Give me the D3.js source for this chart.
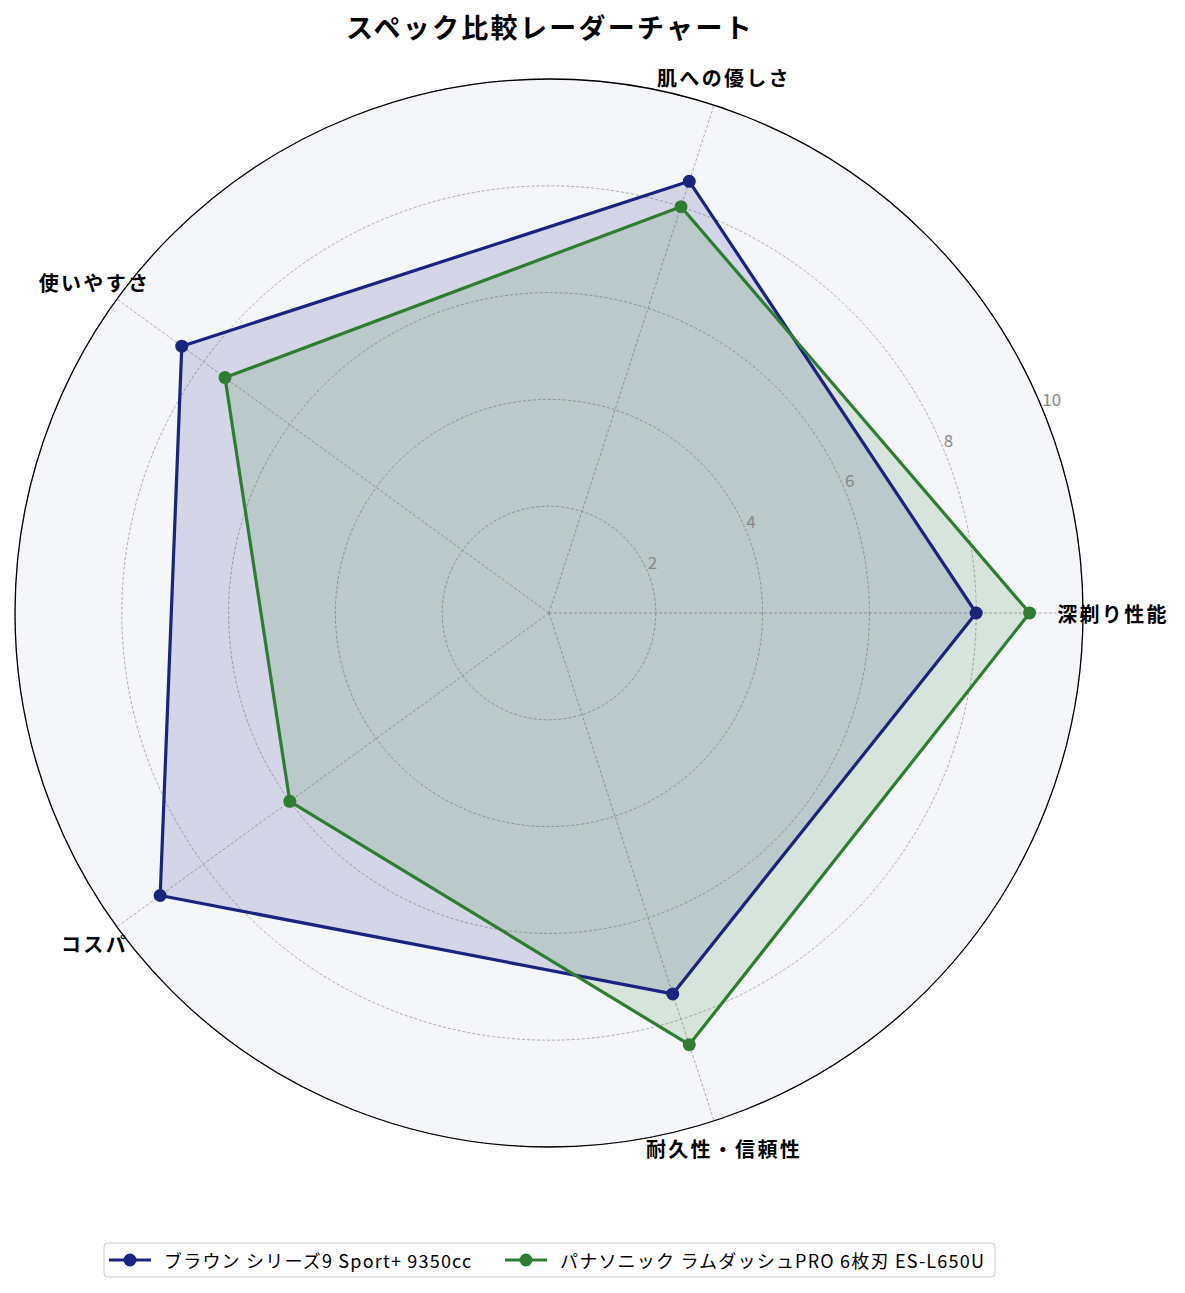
<!DOCTYPE html>
<html>
<head>
<meta charset="utf-8">
<script src="https://cdn.jsdelivr.net/npm/d3@7"></script>
<style>
  body { margin: 0; background: #fff; }
  text { font-family: "Noto Sans CJK JP", "Noto Sans", sans-serif; }
</style>
</head>
<body>
<svg id="chart"></svg>
<script>
// --- Data ---
const categories = ["深剃り性能", "肌への優しさ", "使いやすさ", "コスパ", "耐久性・信頼性"];
const seriesNames = ["ブラウン シリーズ9 Sport+ 9350cc", "パナソニック ラムダッシュPRO 6枚刃 ES-L650U"];
const braunValues = [8, 8.5, 8.5, 9, 7.5];
const panaValues = [9, 8, 7.5, 6, 8.5];
const radialTicks = [2, 4, 6, 8, 10];
const seriesColors = ["#1a237e", "#2e7d32"];

// --- Layout ---
const w = 1185, h = 1293;
const cx = 549, cy = 613, R = 534;

const svg = d3.select("#chart").attr("width", w).attr("height", h);

const rScale = d3.scaleLinear().domain([0, 10]).range([0, R]);
// matplotlib angle: counterclockwise from east -> d3 angle: clockwise from north
const theta = i => i * 2 * Math.PI / categories.length;
const d3angle = i => Math.PI / 2 - theta(i);
const px = (i, v) => cx + rScale(v) * Math.cos(theta(i));
const py = (i, v) => cy - rScale(v) * Math.sin(theta(i));

const g = svg.append("g");

// polar background
g.append("circle").attr("cx", cx).attr("cy", cy).attr("r", R).attr("fill", "#f5f6fa");

// circular grid
g.selectAll(".ring")
  .data(radialTicks)
  .enter()
  .append("circle")
  .attr("cx", cx).attr("cy", cy)
  .attr("r", d => rScale(d))
  .attr("fill", "none")
  .attr("stroke", "#999")
  .attr("stroke-width", 0.8)
  .attr("stroke-dasharray", "3,2");

// spokes
g.selectAll(".spoke")
  .data(categories)
  .enter()
  .append("line")
  .attr("x1", cx).attr("y1", cy)
  .attr("x2", (d, i) => px(i, 10))
  .attr("y2", (d, i) => py(i, 10))
  .attr("stroke", "#999")
  .attr("stroke-width", 0.8)
  .attr("stroke-dasharray", "3,2");

// series
const allSeries = [braunValues, panaValues];
const radial = d3.lineRadial()
  .angle((d, i) => d3angle(i))
  .radius(d => rScale(d))
  .curve(d3.curveLinearClosed);

allSeries.forEach((vals, s) => {
  const sg = g.append("g").attr("transform", `translate(${cx},${cy})`);
  sg.append("path")
    .attr("d", radial(vals))
    .attr("fill", seriesColors[s])
    .attr("fill-opacity", 0.15)
    .attr("stroke", "none");
});
allSeries.forEach((vals, s) => {
  const sg = g.append("g").attr("transform", `translate(${cx},${cy})`);
  sg.append("path")
    .attr("d", radial(vals))
    .attr("fill", "none")
    .attr("stroke", seriesColors[s])
    .attr("stroke-width", 3.2)
    .attr("stroke-linejoin", "round");
  g.selectAll(".pt" + s)
    .data(vals)
    .enter()
    .append("circle")
    .attr("cx", (d, i) => px(i, d))
    .attr("cy", (d, i) => py(i, d))
    .attr("r", 6.5)
    .attr("fill", seriesColors[s]);
});

// outer frame
g.append("circle").attr("cx", cx).attr("cy", cy).attr("r", R)
  .attr("fill", "none").attr("stroke", "#000").attr("stroke-width", 1.3);

// radial tick labels at 22.5deg
const rlAng = 22.5 * Math.PI / 180;
g.selectAll(".rlabel")
  .data(radialTicks)
  .enter()
  .append("text")
  .attr("x", d => cx + rScale(d) * Math.cos(rlAng))
  .attr("y", d => cy - rScale(d) * Math.sin(rlAng) - 3)
  .attr("font-size", 17)
  .attr("fill", "#888")
  .text(d => d);

// category labels
g.selectAll(".cat")
  .data(categories)
  .enter()
  .append("text")
  .attr("x", (d, i) => cx + 563 * Math.cos(theta(i)) + 1)
  .attr("y", (d, i) => cy - 563 * Math.sin(theta(i)))
  .attr("text-anchor", "middle")
  .attr("dominant-baseline", "central")
  .attr("font-size", 20)
  .attr("letter-spacing", 2.3)
  .attr("font-weight", "bold")
  .attr("fill", "#000")
  .text(d => d);

// title
svg.append("text")
  .attr("x", cx + 1).attr("y", 38)
  .attr("text-anchor", "middle")
  .attr("font-size", 27)
  .attr("letter-spacing", 2.3)
  .attr("font-weight", "bold")
  .text("スペック比較レーダーチャート");

// legend
const lg = svg.append("g");
lg.append("rect")
  .attr("x", 104).attr("y", 1243).attr("width", 891).attr("height", 34)
  .attr("rx", 4).attr("fill", "#fff").attr("stroke", "#ccc").attr("stroke-width", 1);
const legendX = [109, 505];
seriesNames.forEach((name, s) => {
  const x0 = legendX[s];
  lg.append("line")
    .attr("x1", x0).attr("x2", x0 + 42).attr("y1", 1260).attr("y2", 1260)
    .attr("stroke", seriesColors[s]).attr("stroke-width", 3.2);
  lg.append("circle").attr("cx", x0 + 21).attr("cy", 1260).attr("r", 6.5)
    .attr("fill", seriesColors[s]);
  lg.append("text")
    .attr("x", x0 + 55).attr("y", 1260)
    .attr("dominant-baseline", "central")
    .attr("font-size", 18)
    .attr("letter-spacing", 1.2)
    .text(name);
});
</script>
</body>
</html>
